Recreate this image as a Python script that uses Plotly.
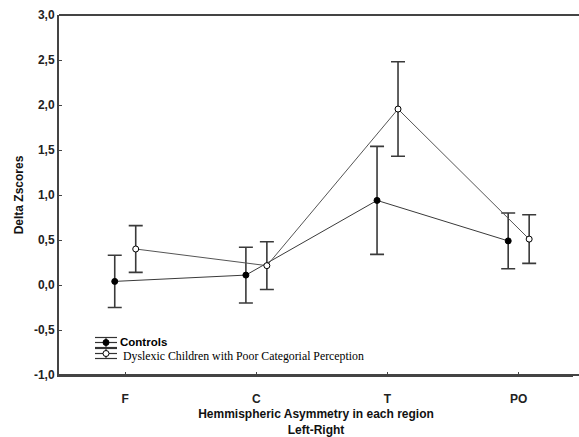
import plotly.graph_objects as go

# ---- data ----
categories = ["F", "C", "T", "PO"]
controls_mean = [0.04, 0.11, 0.94, 0.49]
controls_err = [0.29, 0.31, 0.60, 0.31]
dyslexic_mean = [0.40, 0.215, 1.955, 0.51]
dyslexic_err = [0.26, 0.265, 0.525, 0.27]
ytick_vals = [-1.0, -0.5, 0.0, 0.5, 1.0, 1.5, 2.0, 2.5, 3.0]
ytick_text = ["-1,0", "-0,5", "0,0", "0,5", "1,0", "1,5", "2,0", "2,5", "3,0"]
series_names = ["Controls", "Dyslexic Children with Poor Categorial Perception"]

W, H = 579, 437
L, R, T, B = 59, 6, 15, 62
offset = 0.08

xpos = list(range(len(categories)))
x_ctrl = [x - offset for x in xpos]
x_dys = [x + offset for x in xpos]

fig = go.Figure()
fig.add_trace(go.Scatter(
    x=x_ctrl, y=controls_mean, mode="lines+markers", name=series_names[0],
    line=dict(color="#3a3a3a", width=1),
    marker=dict(symbol="circle", size=6, color="black", line=dict(color="black", width=1)),
    error_y=dict(type="data", array=controls_err, visible=True, color="#3a3a3a", thickness=1.6, width=7),
    showlegend=False,
))
fig.add_trace(go.Scatter(
    x=x_dys, y=dyslexic_mean, mode="lines+markers", name=series_names[1],
    line=dict(color="#555555", width=1),
    marker=dict(symbol="circle", size=6, color="white", line=dict(color="black", width=1)),
    error_y=dict(type="data", array=dyslexic_err, visible=True, color="#3a3a3a", thickness=1.6, width=7),
    showlegend=False,
))

pw = W - L - R
ph = H - T - B
def fx(px):
    return (px - L) / pw
def fy(py):
    return (H - B - py) / ph

# frame lines that run to the right edge of the picture (top and bottom)
shapes = [
    dict(type="line", xref="paper", yref="paper", x0=0, x1=(W - L) / pw, y0=1, y1=1,
         line=dict(color="#444", width=2)),
    dict(type="line", xref="paper", yref="paper", x0=0, x1=(W - L) / pw, y0=0, y1=0,
         line=dict(color="#444", width=2)),
]
annotations = []
legend_items = [
    (series_names[0], 342.5, "black", "Liberation Sans", True, 118, 342.0),
    (series_names[1], 353.5, "white", "Liberation Serif", False, 121, 355.5),
]
gx0, gx1, gxc = 95, 117, 106
for name, cy, fill, fam, bold, tx, ty in legend_items:
    for yy in (cy - 5, cy, cy + 5):
        shapes.append(dict(type="line", xref="paper", yref="paper",
                           x0=fx(gx0), x1=fx(gx1), y0=fy(yy), y1=fy(yy),
                           line=dict(color="#333", width=1.2)))
    shapes.append(dict(type="line", xref="paper", yref="paper",
                       x0=fx(gxc), x1=fx(gxc), y0=fy(cy - 5), y1=fy(cy + 5),
                       line=dict(color="#333", width=1.2)))
    shapes.append(dict(type="circle", xref="paper", yref="paper",
                       xsizemode="pixel", ysizemode="pixel",
                       xanchor=fx(gxc), yanchor=fy(cy),
                       x0=-3, x1=3, y0=-3, y1=3,
                       fillcolor=fill, line=dict(color="black", width=1)))
    annotations.append(dict(xref="paper", yref="paper", x=fx(tx), y=fy(ty),
                            xanchor="left", yanchor="middle", showarrow=False,
                            text=("<b>%s</b>" % name) if bold else name,
                            font=dict(family=fam, size=11.5 if bold else 11.8, color="black")))

fig.update_layout(
    width=W, height=H, autosize=False,
    margin=dict(l=L, r=R, t=T, b=B, pad=0, autoexpand=False),
    paper_bgcolor="white", plot_bgcolor="white",
    font=dict(family="Liberation Sans, Arial", size=12, color="#111"),
    shapes=shapes, annotations=annotations,
    xaxis=dict(
        range=[-0.505, 3.46 - R / 131.0], tickmode="array", tickvals=xpos,
        ticktext=["<b>%s</b>" % c for c in categories],
        showgrid=False, zeroline=False, showline=True, linecolor="#444", linewidth=2,
        mirror=False, automargin=False,
        ticks="inside", ticklen=3, tickcolor="#444", ticklabelstandoff=12,
        tickfont=dict(family="Liberation Sans", size=12, color="#222"),
        title=dict(text="<b>Hemmispheric Asymmetry in each region<br>Left-Right</b>",
                   font=dict(family="Liberation Sans", size=12, color="#111"), standoff=6),
    ),
    yaxis=dict(
        range=[-1.0, 3.0], tickmode="array", tickvals=ytick_vals,
        ticktext=["<b>%s</b>" % t for t in ytick_text],
        showgrid=False, zeroline=False, showline=True, linecolor="#444", linewidth=2,
        mirror=False, automargin=False,
        ticks="inside", ticklen=3, tickcolor="#444",
        tickfont=dict(family="Liberation Sans", size=12, color="#222"),
        title=dict(text="<b>Delta Zscores</b>",
                   font=dict(family="Liberation Sans", size=12, color="#111"), standoff=8),
    ),
)

fig.write_html("out.html", config={"displayModeBar": False, "responsive": False})
